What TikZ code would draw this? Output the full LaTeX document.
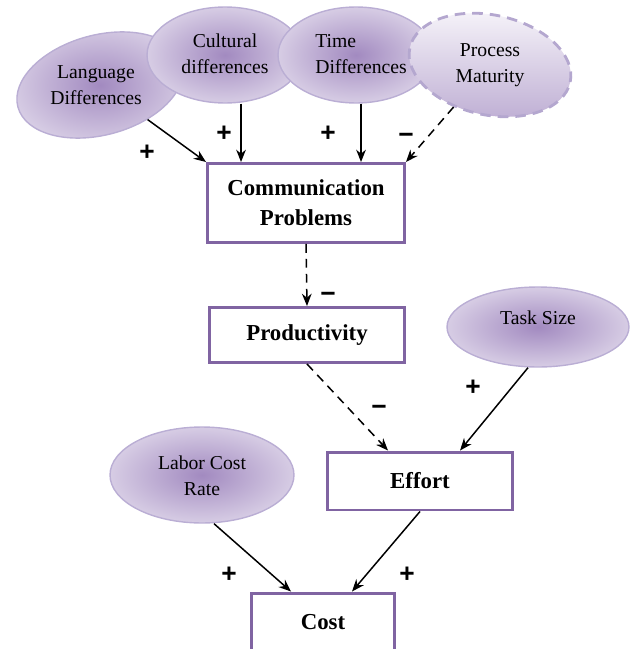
\documentclass[tikz,border=0pt]{standalone}
\usepackage{fontspec}
\setmainfont{Liberation Serif}
\newfontfamily\signfont{Liberation Sans}
\usepackage{tikz}
\usetikzlibrary{arrows.meta,positioning,calc,shapes.geometric}
\definecolor{mBorder}{RGB}{128,100,162}
\definecolor{mRim}{RGB}{186,174,212}
\definecolor{mCore}{RGB}{162,138,192}
\definecolor{mEdge}{RGB}{242,239,247}
\pgfdeclareradialshading{orb}{\pgfpoint{0bp}{0bp}}{color(0bp)=(mCore); color(38bp)=(mEdge); color(50bp)=(mEdge)}

\begin{document}
\begin{tikzpicture}[x=0.02cm, y=-0.02cm,
    factor/.style={ellipse, draw=mRim, line width=0.8pt, inner sep=0pt, shading=orb},
    softfactor/.style={ellipse, draw=mRim!90!mBorder, line width=1.6pt, dash pattern=on 6pt off 4pt,
      inner sep=0pt, top color=mEdge!60!white, bottom color=mCore!60!mEdge},
    label/.style={align=center, font=\fontsize{11.2}{14.5}\selectfont, inner sep=0pt},
    stock/.style={draw=mBorder, line width=1.7pt, fill=white, align=center,
      font=\fontsize{13}{17}\selectfont\bfseries},
    sign/.style={font=\signfont\bfseries\fontsize{15}{17}\selectfont, inner sep=0pt},
    link/.style={-{Stealth[length=7pt,width=5.5pt]}, line width=0.85pt},
    neglink/.style={link, dash pattern=on 5pt off 3.5pt}]
    \useasboundingbox (0,0) rectangle (635,649);

    % The causes on top
    \node[factor, rotate=15, minimum width=3.4cm, minimum height=2cm] (lang) at (100,85) {};
    \node[label] (langtxt) at (96,85) {Language\\Differences};
    \node[factor, minimum width=3.12cm, minimum height=1.92cm] (cult) at (225,55) {};
    \node[label] (culttxt) at (225,54) {Cultural\\differences};
    \node[factor, minimum width=3.12cm, minimum height=1.92cm] (time) at (356,55) {};
    \node[label, align=left] (timetxt) at (361,54) {Time\\Differences};
    \node[softfactor, rotate=-12, minimum width=3.28cm, minimum height=2cm] (proc) at (490,65) {};
    \node[label] (proctxt) at (490,65) {Process\\Maturity};

    % The chain of boxes
    \node[stock, minimum width=3.94cm, minimum height=1.58cm] (comm) at (306,203) {Communication\\Problems};
    \node[stock, minimum width=3.92cm, minimum height=1.1cm] (prod) at (307,335) {Productivity};
    \node[stock, minimum width=3.7cm, minimum height=1.16cm] (eff) at (420,481) {Effort};
    \node[stock, minimum width=2.86cm, minimum height=1.16cm] (cost) at (323,622) {Cost};

    % Side inputs
    \node[factor, minimum width=3.64cm, minimum height=1.6cm] (task) at (538,327) {};
    \node[label] (tasktxt) at (538,318) {Task Size};
    \node[factor, minimum width=3.68cm, minimum height=1.92cm] (labor) at (202,475) {};
    \node[label] (labortxt) at (202,476) {Labor Cost\\Rate};

    % Links into Communication Problems
    \coordinate (c1) at ($(comm.north west)+(35,0)$);
    \coordinate (c2) at ($(comm.north west)+(155,0)$);
    \draw[link] (lang) -- (comm.north west);
    \draw[link] (cult.south -| c1) -- (c1);
    \draw[link] (time.south -| c2) -- (c2);
    \draw[neglink] (proc) -- (comm.north east);

    % Links down the chain
    \coordinate (e1) at ($(eff.north west)+(62,0)$);
    \coordinate (e2) at ($(eff.north west)+(134,0)$);
    \coordinate (k1) at ($(cost.north west)+(41,0)$);
    \coordinate (k2) at ($(cost.north west)+(102,0)$);
    \draw[neglink] (comm.south) -- (prod.north);
    \draw[neglink] (prod.south) -- (e1);
    \draw[link] ($(task.south)+(-10,0)$) -- (e2);
    \draw[link] ($(labor.south)+(12,0)$) -- (k1);
    \draw[link] (eff.south) -- (k2);

    % Signs
    \node[sign] (p1) at (147,153) {+};
    \node[sign] (p2) at (224,134) {+};
    \node[sign] (p3) at (328,134) {+};
    \node[sign] (m1) at (406,138) {−};
    \node[sign] (m2) at (328,297) {−};
    \node[sign] (m3) at (379,410) {−};
    \node[sign] (p4) at (473,388) {+};
    \node[sign] (p5) at (229,575) {+};
    \node[sign] (p6) at (407,575) {+};
  \end{tikzpicture}
\end{document}
